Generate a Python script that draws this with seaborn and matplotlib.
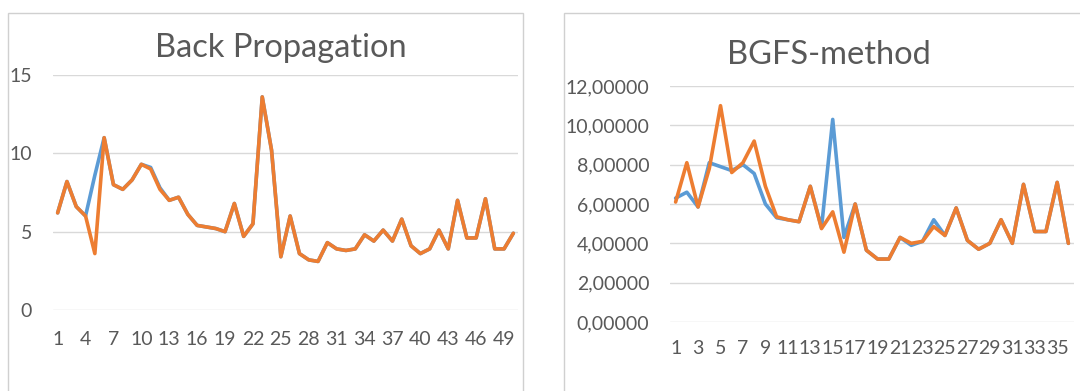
import matplotlib
matplotlib.use("Agg")
import matplotlib.pyplot as plt
import seaborn as sns
import pandas as pd
from matplotlib.patches import Rectangle
from matplotlib.ticker import FuncFormatter

# ---- data ----
bp_index = list(range(1, 51))
bp_blue = [6.2, 8.2, 6.6, 6.0, 8.6, 11.0, 8.0, 7.7, 8.3, 9.3, 9.1, 7.8, 7.0, 7.2, 6.1,
           5.4, 5.3, 5.2, 5.0, 6.8, 4.7, 5.5, 13.6, 10.2, 3.4, 6.0, 3.6, 3.2, 3.1, 4.3,
           3.9, 3.8, 3.9, 4.8, 4.4, 5.1, 4.4, 5.8, 4.1, 3.6, 3.9, 5.1, 3.9, 7.0, 4.6,
           4.6, 7.1, 3.9, 3.9, 4.9]
bp_orange = [6.2, 8.2, 6.6, 6.0, 3.6, 11.0, 8.0, 7.7, 8.3, 9.3, 9.0, 7.7, 7.0, 7.2, 6.1,
             5.4, 5.3, 5.2, 5.0, 6.8, 4.7, 5.5, 13.6, 10.2, 3.4, 6.0, 3.6, 3.2, 3.1, 4.3,
             3.9, 3.8, 3.9, 4.8, 4.4, 5.1, 4.4, 5.8, 4.1, 3.6, 3.9, 5.1, 3.9, 7.0, 4.6,
             4.6, 7.1, 3.9, 3.9, 4.9]
bp_xticks = list(range(1, 51, 3))
bp_yticks = [0, 5, 10, 15]

bg_index = list(range(1, 37))
bg_blue = [6.3, 6.6, 5.85, 8.1, 7.9, 7.7, 8.0, 7.55, 6.0, 5.3, 5.2, 5.1, 6.9, 4.8, 10.3,
           4.3, 6.0, 3.65, 3.2, 3.2, 4.3, 3.9, 4.1, 5.2, 4.4, 5.8, 4.15, 3.7, 4.0, 5.2,
           4.0, 7.0, 4.6, 4.6, 7.1, 4.0]
bg_orange = [6.1, 8.1, 5.85, 7.8, 11.0, 7.6, 8.1, 9.2, 6.9, 5.35, 5.2, 5.1, 6.9, 4.75, 5.6,
             3.55, 6.0, 3.65, 3.2, 3.2, 4.3, 4.0, 4.1, 4.85, 4.4, 5.8, 4.15, 3.7, 4.0, 5.2,
             4.0, 7.0, 4.6, 4.6, 7.1, 4.0]
bg_xticks = list(range(1, 37, 2))
bg_yticks = [0, 2, 4, 6, 8, 10, 12]

titles = ["Back Propagation", "BGFS-method"]

BLUE = "#5B9BD5"
ORANGE = "#ED7D31"
TXT = "#595959"
GRID = "#D9D9D9"

sns.set_theme(style="white")
plt.rcParams['font.family'] = ['Lato', 'DejaVu Sans']

W, H = 1080, 391
fig = plt.figure(figsize=(W / 100, H / 100), dpi=100)
fig.patch.set_facecolor("white")

# panel frames
for (x0, x1) in [(8, 523), (564, 1090)]:
    fig.patches.append(Rectangle((x0 / W, -0.05), (x1 - x0) / W, 1 - 13 / H + 0.05,
                                 transform=fig.transFigure, fill=False,
                                 edgecolor="#D0D0D0", linewidth=1.0))


def make_ax(px_left, px_right, px_top, px_bottom):
    return fig.add_axes([px_left / W, 1 - px_bottom / H,
                         (px_right - px_left) / W, (px_bottom - px_top) / H])


ax1 = make_ax(53, 518, 75, 310)
ax2 = make_ax(670, 1074, 86, 322)

df1 = pd.DataFrame({"x": bp_index * 2, "y": bp_blue + bp_orange,
                    "s": ["a"] * len(bp_index) + ["b"] * len(bp_index)})
df2 = pd.DataFrame({"x": bg_index * 2, "y": bg_blue + bg_orange,
                    "s": ["a"] * len(bg_index) + ["b"] * len(bg_index)})

for ax, df, n, xt, yt, ymax in [(ax1, df1, 50, bp_xticks, bp_yticks, 15),
                                (ax2, df2, 36, bg_xticks, bg_yticks, 12)]:
    sns.lineplot(data=df, x="x", y="y", hue="s", palette=[BLUE, ORANGE], ax=ax,
                 linewidth=2.6, legend=False, solid_joinstyle="round",
                 solid_capstyle="round")
    ax.set_xlim(0.5, n + 0.5)
    ax.set_ylim(0, ymax)
    ax.set_xticks(xt)
    ax.set_yticks(yt)
    ax.grid(axis="y", color=GRID, linewidth=1.0)
    ax.set_axisbelow(True)
    for sp in ax.spines.values():
        sp.set_visible(False)
    ax.set_xlabel("")
    ax.set_ylabel("")
    ax.tick_params(axis="both", length=0, colors=TXT, labelsize=14)
    ax.set_facecolor("none")

ax1.tick_params(axis="x", pad=15)
ax1.tick_params(axis="y", pad=15)
ax2.tick_params(axis="x", pad=13)
ax2.tick_params(axis="y", pad=15)
ax2.yaxis.set_major_formatter(FuncFormatter(lambda v, p: f"{v:.5f}".replace(".", ",")))

fig.text(281 / W, 1 - 48 / H, titles[0], ha="center", va="center",
         fontsize=23.5, color=TXT)
fig.text(829 / W, 1 - 55 / H, titles[1], ha="center", va="center",
         fontsize=23.5, color=TXT)

fig.savefig("out.png", dpi=100, facecolor="white")
